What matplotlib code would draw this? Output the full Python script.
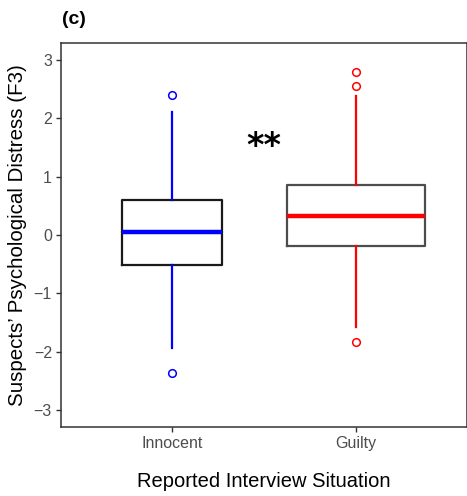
import matplotlib
matplotlib.use("Agg")
import matplotlib.pyplot as plt

groups = ["Innocent", "Guilty"]
q1 = [-0.52, -0.18]
median = [0.05, 0.32]
q3 = [0.60, 0.85]
whisker_low = [-1.93, -1.58]
whisker_high = [2.10, 2.38]
outliers = [[2.40, -2.37], [2.80, 2.55, -1.83]]
box_widths = [0.54, 0.75]

line_colors = ["#0000FF", "#FF0000"]
edge_colors = ["#1A1A1A", "#4D4D4D"]


def main():
    plt.rcParams["font.family"] = ["Liberation Sans", "DejaVu Sans"]
    fig = plt.figure(figsize=(4.67, 4.96), dpi=100)
    ax = fig.add_axes([61 / 467, 69 / 496, 406 / 467, 384 / 496])

    positions = [1, 2]
    for i in range(len(groups)):
        stats = [{
            "med": median[i], "q1": q1[i], "q3": q3[i],
            "whislo": whisker_low[i], "whishi": whisker_high[i],
            "fliers": outliers[i], "label": groups[i],
        }]
        ax.bxp(
            stats, positions=[positions[i]], widths=box_widths[i],
            showcaps=False,
            boxprops=dict(color=edge_colors[i], linewidth=1.6),
            medianprops=dict(color=line_colors[i], linewidth=3.2, solid_capstyle="butt"),
            whiskerprops=dict(color=line_colors[i], linewidth=1.6),
            flierprops=dict(marker="o", markerfacecolor="none",
                            markeredgecolor=line_colors[i], markersize=5.5,
                            markeredgewidth=1.1),
            manage_ticks=False,
        )

    ax.set_xlim(0.4, 2.6)
    ax.set_ylim(-3.29, 3.29)
    ax.set_xticks(positions)
    ax.set_xticklabels(groups)
    ax.set_yticks([-3, -2, -1, 0, 1, 2, 3])
    ax.set_yticklabels(["\u22123", "\u22122", "\u22121", "0", "1", "2", "3"])
    ax.tick_params(colors="#333333", labelcolor="#4D4D4D", labelsize=11.5,
                   length=3.5, width=1.0, pad=3)

    for side in ["left", "bottom", "top", "right"]:
        ax.spines[side].set_color("#333333")
        ax.spines[side].set_linewidth(1.1)

    ax.text(1.5, 1.52, "**", fontsize=24, fontweight="bold", family="DejaVu Sans",
            ha="center", va="center")

    ax.set_ylabel("Suspects\u2019 Psychological Distress (F3)", fontsize=14.8, labelpad=5)
    ax.set_xlabel("Reported Interview Situation", fontsize=14.5, labelpad=15)

    fig.text(62 / 467, 1 - 20 / 496, "(c)", fontsize=14, fontweight="bold",
             ha="left", va="center")

    fig.savefig("out.png", dpi=100)


if __name__ == "__main__":
    main()
